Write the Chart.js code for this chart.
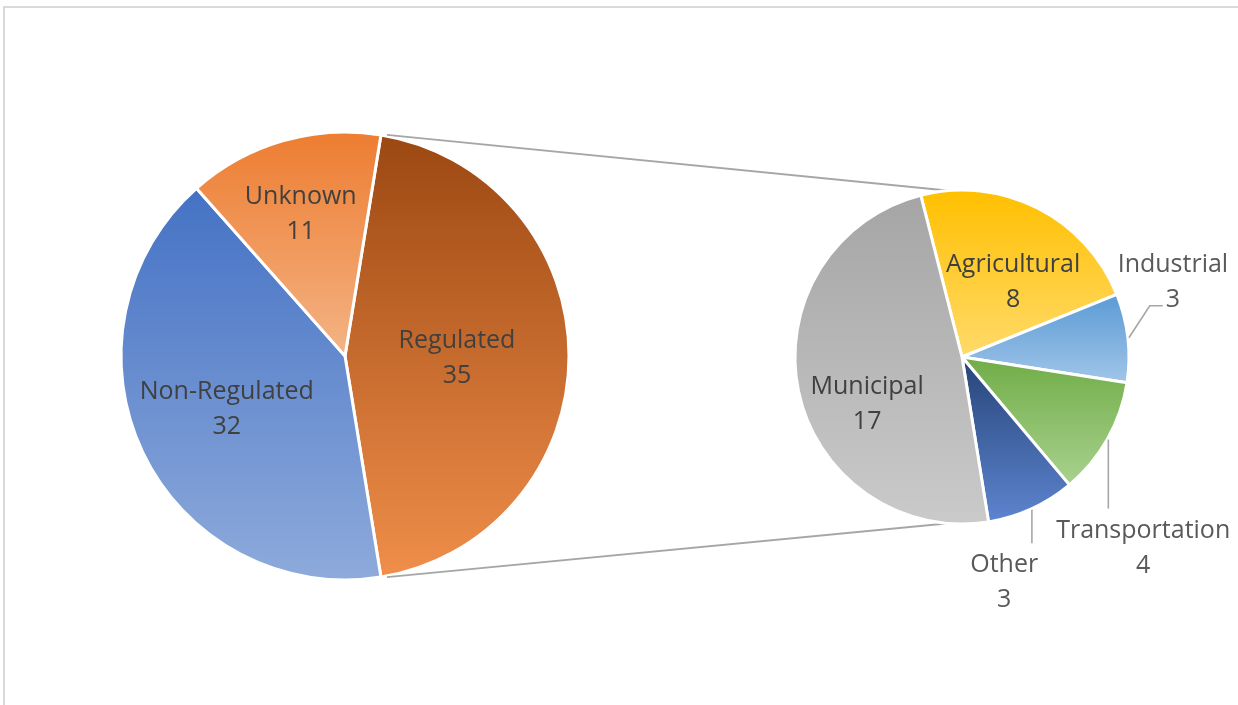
<!DOCTYPE html>
<html>
<head>
<meta charset="utf-8">
<script src="https://cdn.jsdelivr.net/npm/chart.js@4.4.1/dist/chart.umd.min.js"></script>
<style>
  html, body { margin: 0; padding: 0; background: #fff; }
  #wrap { position: relative; width: 1238px; height: 705px; overflow: hidden; }
  #frame {
    position: absolute; left: 3px; top: 6px; right: -10px; bottom: -10px;
    border-top: 2px solid #d9d9d9; border-left: 2px solid #d9d9d9;
  }
  canvas { position: absolute; left: 0; top: 0; }
</style>
</head>
<body>
<div id="wrap">
  <div id="frame"></div>
  <canvas id="mainPie" width="1238" height="705"></canvas>
  <canvas id="splitPie" width="1238" height="705"></canvas>
</div>
<script>
// Main pie: water use by regulation status
const mainLabels = ["Regulated", "Non-Regulated", "Unknown"];
const mainValues = [35, 32, 11];

// Breakdown of the "Regulated" slice
const splitLabels = ["Agricultural", "Industrial", "Transportation", "Other", "Municipal"];
const splitValues = [8, 3, 4, 3, 17];

// Gradient fills, top colour -> bottom colour of each slice
const mainTop = ["#9c4812", "#4472c4", "#ed7d31"];
const mainBottom = ["#f08e4a", "#8eaadb", "#f4b385"];
const splitTop = ["#ffc000", "#5b9bd5", "#70ad47", "#264478", "#a5a5a5"];
const splitBottom = ["#ffda6a", "#a0c5e8", "#a9d18e", "#5d84cf", "#cacaca"];

// Label placement: fraction of radius from centre, angle nudge in degrees, leader style
const mainPlace = [
  { frac: 0.50, shift: 0 },
  { frac: 0.575, shift: 2 },
  { frac: 0.67, shift: -1 }
];
const splitPlace = [
  { frac: 0.55, shift: 7 },
  { frac: 1.343, shift: -13.3, leader: "elbow", outside: true },
  { frac: 1.568, shift: 16.8, leader: "down", outside: true },
  { frac: 1.364, shift: 13.9, leader: "down", outside: true },
  { frac: 0.63, shift: -13.9 }
];

const FONT = "25px 'Open Sans'";
const LINE_GAP = 35;

// Per-slice vertical gradient spanning the slice's own height
function gradientPlugin(tops, bottoms) {
  return {
    id: "sliceGradient",
    beforeDatasetsDraw(chart) {
      const ctx = chart.ctx;
      const TAU = Math.PI * 2;
      const covers = (a, s, e) => {
        let t = ((a - s) % TAU + TAU) % TAU;
        return t <= e - s;
      };
      chart.getDatasetMeta(0).data.forEach((arc, i) => {
        const { x, y, startAngle, endAngle, outerRadius } = arc;
        const ys = [y, y + outerRadius * Math.sin(startAngle), y + outerRadius * Math.sin(endAngle)];
        if (covers(-Math.PI / 2, startAngle, endAngle)) ys.push(y - outerRadius);
        if (covers(Math.PI / 2, startAngle, endAngle)) ys.push(y + outerRadius);
        const g = ctx.createLinearGradient(0, Math.min(...ys), 0, Math.max(...ys));
        g.addColorStop(0, tops[i]);
        g.addColorStop(1, bottoms[i]);
        arc.options.backgroundColor = g;
      });
    }
  };
}

// Two-line data labels ("name" over "value"), with optional leader lines
function labelPlugin(labels, values, place) {
  return {
    id: "sliceLabels",
    afterDatasetsDraw(chart) {
      const ctx = chart.ctx;
      ctx.save();
      ctx.font = FONT;
      ctx.textAlign = "center";
      ctx.textBaseline = "alphabetic";
      chart.getDatasetMeta(0).data.forEach((arc, i) => {
        const p = place[i];
        const mid = (arc.startAngle + arc.endAngle) / 2;
        const a = mid + p.shift * Math.PI / 180;
        const cx = arc.x + Math.cos(a) * arc.outerRadius * p.frac;
        const cy = arc.y + Math.sin(a) * arc.outerRadius * p.frac;
        const base1 = cy - LINE_GAP / 2 + 9;
        const base2 = base1 + LINE_GAP;
        const name = labels[i];
        const val = String(values[i]);

        if (p.leader) {
          const sx = arc.x + Math.cos(mid) * (arc.outerRadius + 1);
          const sy = arc.y + Math.sin(mid) * (arc.outerRadius + 1);
          ctx.strokeStyle = "#a6a6a6";
          ctx.lineWidth = 1.6;
          ctx.beginPath();
          ctx.moveTo(sx, sy);
          if (p.leader === "down") {
            ctx.lineTo(sx, base1 - 29);
          } else {
            const vx = cx - ctx.measureText(val).width / 2 - 3;
            const vy = base2 - 1.5;
            ctx.lineTo(vx - 13, vy);
            ctx.lineTo(vx, vy);
          }
          ctx.stroke();
        }

        ctx.fillStyle = p.outside ? "#595959" : "#404040";
        ctx.fillText(name, cx, base1);
        ctx.fillText(val, cx, base2);
      });
      ctx.restore();
    }
  };
}

const mainTotal = mainValues.reduce((s, v) => s + v, 0);

const mainChart = new Chart(document.getElementById("mainPie"), {
  type: "pie",
  data: {
    labels: mainLabels,
    datasets: [{
      data: mainValues,
      backgroundColor: mainTop.slice(),
      borderColor: "#ffffff",
      borderWidth: 3
    }]
  },
  options: {
    responsive: false,
    animation: false,
    events: [],
    radius: 224,
    // centre the split slice on the right-hand side
    rotation: 90 - (mainValues[0] / mainTotal) * 180,
    layout: { padding: { left: 100, right: 648, top: 110, bottom: 103 } },
    plugins: { legend: { display: false }, tooltip: { enabled: false } }
  },
  plugins: [gradientPlugin(mainTop, mainBottom), labelPlugin(mainLabels, mainValues, mainPlace)]
});

// Connector lines from the split slice to the secondary pie
const connectorPlugin = {
  id: "connectors",
  beforeDatasetsDraw(chart) {
    const src = mainChart.getDatasetMeta(0).data[0];
    const dst = chart.getDatasetMeta(0).data[0];
    const ctx = chart.ctx;
    const r = src.outerRadius;
    ctx.save();
    ctx.strokeStyle = "#a6a6a6";
    ctx.lineWidth = 1.8;
    ctx.beginPath();
    ctx.moveTo(src.x + Math.cos(src.startAngle) * r + 6, src.y + Math.sin(src.startAngle) * r);
    ctx.lineTo(dst.x, dst.y - dst.outerRadius + 2);
    ctx.moveTo(src.x + Math.cos(src.endAngle) * r + 6, src.y + Math.sin(src.endAngle) * r);
    ctx.lineTo(dst.x, dst.y + dst.outerRadius - 2);
    ctx.stroke();
    ctx.restore();
  }
};

const splitChart = new Chart(document.getElementById("splitPie"), {
  type: "pie",
  data: {
    labels: splitLabels,
    datasets: [{
      data: splitValues,
      backgroundColor: splitTop.slice(),
      borderColor: "#ffffff",
      borderWidth: 3
    }]
  },
  options: {
    responsive: false,
    animation: false,
    events: [],
    radius: 167,
    rotation: -14.3,
    layout: { padding: { left: 780, right: 94, top: 180, bottom: 171 } },
    plugins: { legend: { display: false }, tooltip: { enabled: false } }
  },
  plugins: [connectorPlugin, gradientPlugin(splitTop, splitBottom), labelPlugin(splitLabels, splitValues, splitPlace)]
});
</script>
</body>
</html>
